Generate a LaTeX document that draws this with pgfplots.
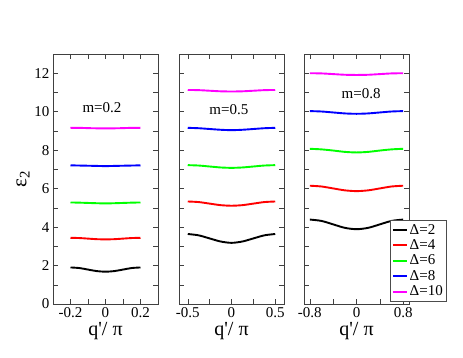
\documentclass[border=0pt]{standalone}
\usepackage{fontspec}
\setmainfont{Liberation Serif}
\usepackage{pgfplots}
\pgfplotsset{compat=1.18}
\definecolor{cgreen}{RGB}{0,255,0}
\definecolor{cmag}{RGB}{255,0,255}
\pgfplotsset{
  panel/.style={
    scale only axis, width=105pt, height=250pt, anchor=south west,
    ymin=0, ymax=13,
    ytick={0,2,...,12}, minor ytick={1,3,...,13},
    tick align=inside, major tick length=5pt, minor tick length=5pt,
    axis line style={black!75}, every tick/.style={black!75},
    tick label style={font=\fontsize{15}{15}\selectfont},
    /pgf/number format/assume math mode=true,
    xlabel={q\textquotesingle/ π}, xlabel style={font=\fontsize{20}{20}\selectfont, yshift=2pt},
    every axis plot/.append style={line width=1.9pt, smooth, no markers},
  },
}
\begin{document}
\begin{tikzpicture}
\useasboundingbox (0,0) rectangle (463pt,358pt);
% m = 0.2
\begin{axis}[panel, at={(53pt,54pt)},
  xmin=-0.3, xmax=0.3, xtick={-0.2,0,0.2}, minor xtick={-0.1,0.1},
  xticklabels={-0.2,0,0.2},
  ylabel={ε\textsubscript{2}}, ylabel style={font=\fontsize{21}{21}\selectfont, yshift=-2pt}]
\addplot[black] coordinates {(-0.2,1.90) (-0.15,1.87) (-0.1,1.79) (-0.05,1.71) (0,1.68) (0.05,1.71) (0.1,1.79) (0.15,1.87) (0.2,1.90)};
\addplot[red] coordinates {(-0.2,3.44) (-0.15,3.43) (-0.1,3.40) (-0.05,3.37) (0,3.36) (0.05,3.37) (0.1,3.40) (0.15,3.43) (0.2,3.44)};
\addplot[cgreen] coordinates {(-0.2,5.28) (-0.15,5.27) (-0.1,5.255) (-0.05,5.24) (0,5.23) (0.05,5.24) (0.1,5.255) (0.15,5.27) (0.2,5.28)};
\addplot[blue] coordinates {(-0.2,7.21) (-0.15,7.20) (-0.1,7.19) (-0.05,7.18) (0,7.17) (0.05,7.18) (0.1,7.19) (0.15,7.20) (0.2,7.21)};
\addplot[cmag] coordinates {(-0.2,9.16) (-0.15,9.16) (-0.1,9.145) (-0.05,9.135) (0,9.13) (0.05,9.135) (0.1,9.145) (0.15,9.16) (0.2,9.16)};
\node[font=\fontsize{15}{15}\selectfont] at (axis cs:-0.02,10.2) {m=0.2};
\end{axis}
% m = 0.5
\begin{axis}[panel, at={(179pt,54pt)},
  xmin=-0.6, xmax=0.6, xtick={-0.5,0,0.5}, minor xtick={-0.25,0.25},
  xticklabels={-0.5,0,0.5}, yticklabels={}]
\addplot[black] coordinates {(-0.5,3.64) (-0.375,3.57) (-0.25,3.41) (-0.125,3.25) (0,3.18) (0.125,3.25) (0.25,3.41) (0.375,3.57) (0.5,3.64)};
\addplot[red] coordinates {(-0.5,5.33) (-0.375,5.30) (-0.25,5.22) (-0.125,5.14) (0,5.11) (0.125,5.14) (0.25,5.22) (0.375,5.30) (0.5,5.33)};
\addplot[cgreen] coordinates {(-0.5,7.22) (-0.375,7.20) (-0.25,7.15) (-0.125,7.10) (0,7.08) (0.125,7.10) (0.25,7.15) (0.375,7.20) (0.5,7.22)};
\addplot[blue] coordinates {(-0.5,9.16) (-0.375,9.14) (-0.25,9.10) (-0.125,9.06) (0,9.04) (0.125,9.06) (0.25,9.10) (0.375,9.14) (0.5,9.16)};
\addplot[cmag] coordinates {(-0.5,11.13) (-0.375,11.12) (-0.25,11.09) (-0.125,11.06) (0,11.05) (0.125,11.06) (0.25,11.09) (0.375,11.12) (0.5,11.13)};
\node[font=\fontsize{15}{15}\selectfont] at (axis cs:-0.03,10.1) {m=0.5};
\end{axis}
% m = 0.8
\begin{axis}[panel, at={(304pt,54pt)},
  xmin=-0.9, xmax=0.9, xtick={-0.8,0,0.8}, minor xtick={-0.4,0.4},
  xticklabels={-0.8,0,0.8}, yticklabels={},
  legend style={at={(0.82,0.012)}, anchor=south west, draw=black!70,
    font=\fontsize{15}{15}\selectfont, cells={anchor=west},
    inner sep=1.5pt, row sep=0pt},
  legend image code/.code={\draw[#1, line width=1.9pt] (0pt,0pt) -- (14pt,0pt);}]
\addplot[black] coordinates {(-0.8,4.39) (-0.6,4.32) (-0.4,4.14) (-0.2,3.96) (0,3.89) (0.2,3.96) (0.4,4.14) (0.6,4.32) (0.8,4.39)};
\addlegendentry{Δ=2}
\addplot[red] coordinates {(-0.8,6.15) (-0.6,6.11) (-0.4,6.01) (-0.2,5.91) (0,5.87) (0.2,5.91) (0.4,6.01) (0.6,6.11) (0.8,6.15)};
\addlegendentry{Δ=4}
\addplot[cgreen] coordinates {(-0.8,8.07) (-0.6,8.04) (-0.4,7.98) (-0.2,7.91) (0,7.88) (0.2,7.91) (0.4,7.98) (0.6,8.04) (0.8,8.07)};
\addlegendentry{Δ=6}
\addplot[blue] coordinates {(-0.8,10.03) (-0.6,10.01) (-0.4,9.96) (-0.2,9.91) (0,9.89) (0.2,9.91) (0.4,9.96) (0.6,10.01) (0.8,10.03)};
\addlegendentry{Δ=8}
\addplot[cmag] coordinates {(-0.8,12.00) (-0.6,11.99) (-0.4,11.955) (-0.2,11.92) (0,11.91) (0.2,11.92) (0.4,11.955) (0.6,11.99) (0.8,12.00)};
\addlegendentry{Δ=10}
\node[font=\fontsize{15}{15}\selectfont] at (axis cs:0.08,10.95) {m=0.8};
\end{axis}
\end{tikzpicture}
\end{document}
